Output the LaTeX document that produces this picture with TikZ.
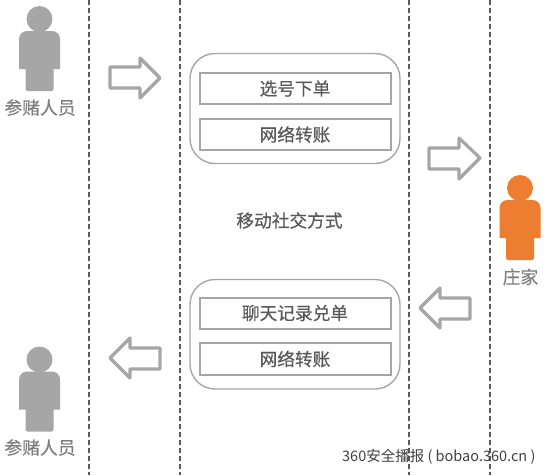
\documentclass[tikz,border=0pt]{standalone}
\usepackage{fontspec}
\setmainfont{Noto Sans CJK SC}
\newfontfamily\boldishfont[FakeBold=0.5]{Noto Sans CJK SC}
\definecolor{arrowgray}{HTML}{A6A6A6}
\definecolor{persongray}{HTML}{A6A6A6}
\definecolor{personorange}{HTML}{ED7D31}
\definecolor{linegray}{HTML}{595959}
\definecolor{boxgray}{HTML}{A6A6A6}
\definecolor{labelgray}{HTML}{7F7F7F}
\definecolor{textgray}{HTML}{595959}
\tikzset{
  x=1pt,y=-1pt,
  sep/.style={draw=linegray,line width=2pt,dash pattern=on 5pt off 3pt},
  flow/.style={draw=arrowgray,line width=3.2pt,line join=round,fill=white},
  panel/.style={draw=boxgray,line width=1.4pt,rounded corners=25pt},
  itembox/.style={draw=boxgray,line width=2pt,minimum width=191pt,inner sep=0pt,text=textgray,font=\boldishfont\fontsize{17.7pt}{18pt}\selectfont},
  plabel/.style={text=labelgray,inner sep=0pt,font=\boldishfont\fontsize{17.8pt}{18pt}\selectfont},
  person/.pic={
    \fill[pic actions] (0,-46) circle (13);
    \fill[pic actions,rounded corners=8pt] (-20.5,-34) -- (20.5,-34) -- (20.5,-4) [sharp corners] -- (20.5,4) -- (14,4) [rounded corners=2pt] -- (14,26) -- (-14,26) [sharp corners] -- (-14,4) -- (-20.5,4) [rounded corners=8pt] -- (-20.5,-4) -- cycle;
  },
}
\begin{document}
\begin{tikzpicture}
\useasboundingbox (0,0) rectangle (550,475);
\foreach \x in {89,179.5,409,490} \draw[sep] (\x,0) -- (\x,475);

\pic[fill=persongray] at (39.5,65) {person};
\pic[fill=personorange] at (520,234) {person};
\pic[fill=persongray] at (39.5,405.5) {person};
\node[plabel] (p1) at (40,107.5) {参赌人员};
\node[plabel] (p2) at (520.5,277) {庄家};
\node[plabel] (p3) at (40,447.5) {参赌人员};

% arrows
\draw[flow] (110,67) -- (140,67) -- (140,58) -- (160,78) -- (140,98) -- (140,88) -- (110,88) -- cycle;
\draw[flow] (429,148) -- (459,148) -- (459,138) -- (480,158) -- (459,179) -- (459,169) -- (429,169) -- cycle;
\draw[flow] (470,298) -- (440,298) -- (440,288) -- (420,308) -- (440,328) -- (440,319) -- (470,319) -- cycle;
\draw[flow] (160,348) -- (130,348) -- (130,338) -- (110,358) -- (130,378) -- (130,369) -- (160,369) -- cycle;

\draw[panel] (190,53.5) rectangle (400,163.5);
\draw[panel] (190,279.5) rectangle (400,389);

\node[itembox,minimum height=31pt] (a) at (295,88.5) {选号下单};
\node[itembox,minimum height=31pt] (b) at (295,134.5) {网络转账};
\node[itembox,minimum height=31pt] (c) at (295,313) {聊天记录兑单};
\node[itembox,minimum height=32pt] (d) at (295,359) {网络转账};
\node[text=textgray,inner sep=0pt,font=\boldishfont\fontsize{17.7pt}{18pt}\selectfont] (m) at (289.5,220.5) {移动社交方式};
\node[anchor=west,inner sep=0pt,text=black!75,font=\fontsize{14.5pt}{16pt}\selectfont] (w) at (342,456.5) {360安全播报 ( bobao.360.cn )};
\end{tikzpicture}
\end{document}
